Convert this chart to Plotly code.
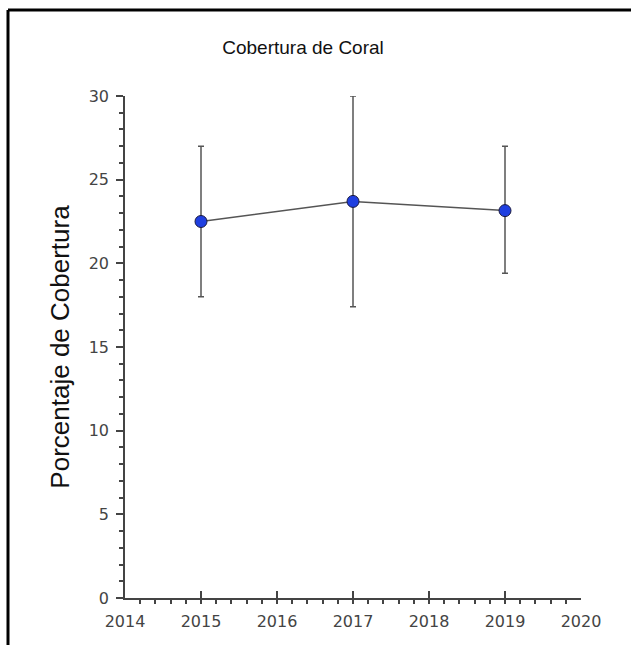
import plotly.graph_objects as go

years = [2015, 2017, 2019]
coverage = [22.5, 23.7, 23.15]
err_plus = [4.5, 6.3, 3.85]
err_minus = [4.5, 6.3, 3.75]
x_ticks = [2014, 2015, 2016, 2017, 2018, 2019, 2020]
y_ticks = [0, 5, 10, 15, 20, 25, 30]

W, H = 631, 645
L, R, T, B = 125, 50, 96, 47
pw, ph = W - L - R, H - T - B

fig = go.Figure()
fig.add_trace(go.Scatter(
    x=years, y=coverage, mode="lines+markers",
    line=dict(color="#555555", width=1.5),
    marker=dict(size=12, color="#1f3fe0", line=dict(color="#1a1a40", width=1)),
    error_y=dict(type="data", symmetric=False, array=err_plus, arrayminus=err_minus,
                 color="#555555", thickness=1.5, width=3),
    showlegend=False,
))

axis_font = dict(family="DejaVu Sans", size=16, color="#444444")
fig.update_layout(
    width=W, height=H,
    margin=dict(l=L, r=R, t=T, b=B),
    paper_bgcolor="white", plot_bgcolor="white",
    title=dict(text="Cobertura de Coral", x=303 / W, xanchor="center",
               y=1 - 47 / H, yanchor="middle",
               font=dict(family="Liberation Sans", size=19, color="#111111")),
    xaxis=dict(range=[2014, 2020], tickvals=x_ticks, ticktext=[str(v) for v in x_ticks],
               showgrid=False, zeroline=False, showline=True, linecolor="#444444", linewidth=1.5,
               ticks="inside", ticklen=7, tickwidth=1.5, tickcolor="#444444",
               tickfont=axis_font, ticklabelstandoff=8,
               minor=dict(ticks="outside", ticklen=4, tickwidth=1.5, tickcolor="#444444", dtick=0.2, showgrid=False)),
    yaxis=dict(range=[0, 30], tickvals=y_ticks, showgrid=False, zeroline=False,
               showline=True, linecolor="#444444", linewidth=1.5,
               ticks="outside", ticklen=7, tickwidth=1.5, tickcolor="#444444",
               tickfont=axis_font, ticklabelstandoff=4,
               title=dict(text="Porcentaje de Cobertura", standoff=12,
                          font=dict(family="Liberation Sans", size=26, color="#111111")),
               minor=dict(ticks="outside", ticklen=4, tickwidth=1.5, tickcolor="#444444", dtick=1, showgrid=False)),
)

# frame (left and top edges of a cropped box)
x0 = (8 - L) / pw
ytop = (H - B - 10) / ph
ybot = (H - B - H - 5) / ph
fig.add_shape(type="line", xref="paper", yref="paper", x0=x0, x1=x0, y0=ybot, y1=ytop,
              line=dict(color="black", width=3))
fig.add_shape(type="line", xref="paper", yref="paper", x0=x0, x1=(W + 5 - L) / pw, y0=ytop, y1=ytop,
              line=dict(color="black", width=3))

fig.write_html("out.html")
